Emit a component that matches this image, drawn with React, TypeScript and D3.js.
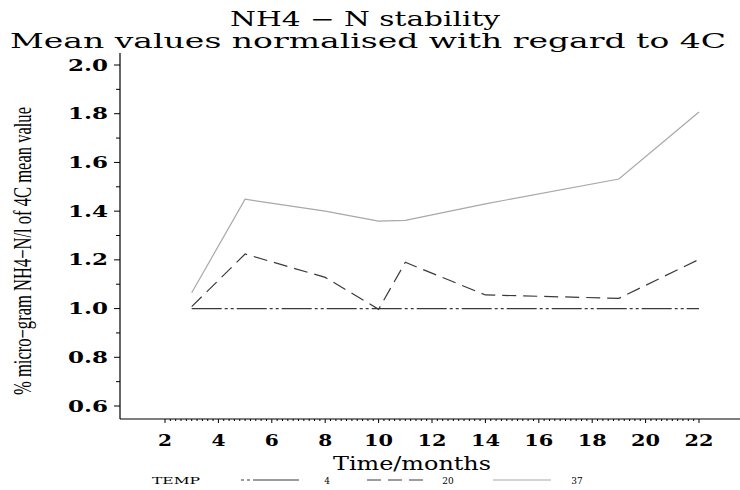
import React from "react";
import * as d3 from "d3";

const months = [3, 5, 8, 10, 11, 14, 19, 22];
const temp4 = [1.0, 1.0, 1.0, 1.0, 1.0, 1.0, 1.0, 1.0];
const temp20 = [1.008, 1.224, 1.128, 0.997, 1.19, 1.056, 1.042, 1.202];
const temp37 = [1.065, 1.449, 1.4, 1.359, 1.362, 1.43, 1.532, 1.807];
const xTicks = [2, 4, 6, 8, 10, 12, 14, 16, 18, 20, 22];
const yTicks = [0.6, 0.8, 1.0, 1.2, 1.4, 1.6, 1.8, 2.0];
const legendLabels = ["4", "20", "37"];

const W = 740;
const H = 490;

export default function App() {
  const x = d3.scaleLinear().domain([2, 22]).range([165, 699]);
  const y = d3.scaleLinear().domain([0.6, 2.0]).range([406, 65]);
  const axisX = 120;
  const axisBottom = 419;
  const axisTop = 53;

  const line = d3
    .line<[number, number]>()
    .x((d) => x(d[0]))
    .y((d) => y(d[1]));

  const pts = (vals: number[]) => months.map((m, i) => [m, vals[i]] as [number, number]);

  const series = [
    { vals: temp4, stroke: "#3a3a3a", dash: "30,3,3,3,3,3", width: 1.2 },
    { vals: temp20, stroke: "#3a3a3a", dash: "14,7", width: 1.2 },
    { vals: temp37, stroke: "#a8a8a8", dash: "none", width: 1.2 },
  ];

  const minorX: number[] = [];
  for (let v = 2; v <= 22.001; v += 0.2) {
    const r = Math.round(v * 10) / 10;
    if (Math.abs(r - Math.round(r / 2) * 2) > 0.01) minorX.push(r);
  }
  const minorY: number[] = [];
  for (let v = 0.7; v <= 1.95; v += 0.2) minorY.push(Math.round(v * 10) / 10);

  const serif = "'DejaVu Serif', serif";

  const legendItems = [
    { x1: 241, x2: 299, lx: 327, ...series[0] },
    { x1: 367, x2: 424, lx: 448, ...series[1] },
    { x1: 493, x2: 551, lx: 577, ...series[2] },
  ];

  return (
    <svg
      width={W}
      height={H}
      style={{ position: "absolute", left: 0, top: 0, background: "#fff" }}
    >
      <rect x={0} y={0} width={W} height={H} fill="#fff" />
      {/* Titles */}
      <text
        x={365}
        y={26}
        textAnchor="middle"
        fontFamily={serif}
        fontSize={20}
        textLength={270}
        lengthAdjust="spacingAndGlyphs"
        fill="#000"
      >
        NH4 − N  stability
      </text>
      <text
        x={368}
        y={48}
        textAnchor="middle"
        fontFamily={serif}
        fontSize={20}
        textLength={716}
        lengthAdjust="spacingAndGlyphs"
        fill="#000"
      >
        Mean values normalised with regard to 4C
      </text>

      {/* Axes */}
      <line x1={axisX} y1={axisTop} x2={axisX} y2={axisBottom} stroke="#000" strokeWidth={1.2} />
      <line x1={axisX} y1={axisBottom} x2={740} y2={axisBottom} stroke="#000" strokeWidth={1.2} />

      {yTicks.map((t) => (
        <g key={"yt" + t}>
          <line x1={axisX - 6} x2={axisX} y1={y(t)} y2={y(t)} stroke="#000" />
          <text
            x={108}
            y={y(t) + 5.5}
            textAnchor="end"
            fontFamily={serif}
            fontWeight="bold"
            fontSize={16}
            textLength={40}
            lengthAdjust="spacingAndGlyphs"
            fill="#000"
          >
            {t.toFixed(1)}
          </text>
        </g>
      ))}
      {minorY.map((t) => (
        <line key={"ym" + t} x1={axisX - 4} x2={axisX} y1={y(t)} y2={y(t)} stroke="#000" />
      ))}

      {xTicks.map((t) => (
        <g key={"xt" + t}>
          <line x1={x(t)} x2={x(t)} y1={axisBottom} y2={axisBottom + 4} stroke="#000" />
          <text
            x={x(t)}
            y={446}
            textAnchor="middle"
            fontFamily={serif}
            fontWeight="bold"
            fontSize={16}
            textLength={String(t).length > 1 ? 29 : 14}
            lengthAdjust="spacingAndGlyphs"
            fill="#000"
          >
            {t}
          </text>
        </g>
      ))}
      {minorX.map((t) => (
        <line key={"xm" + t} x1={x(t)} x2={x(t)} y1={axisBottom} y2={axisBottom + 2} stroke="#000" />
      ))}

      {/* Axis titles */}
      <text
        x={412}
        y={470}
        textAnchor="middle"
        fontFamily={serif}
        fontSize={19}
        textLength={158}
        lengthAdjust="spacingAndGlyphs"
        fill="#000"
      >
        Time/months
      </text>
      <text
        transform="translate(31,251) rotate(-90)"
        textAnchor="middle"
        fontFamily="'Liberation Serif', serif"
        fontSize={25}
        textLength={288}
        lengthAdjust="spacingAndGlyphs"
        fill="#000"
      >
        % micro−gram NH4−N/l of 4C mean value
      </text>

      {/* Series */}
      {series.map((s, i) => (
        <path
          key={"s" + i}
          d={line(pts(s.vals)) || ""}
          fill="none"
          stroke={s.stroke}
          strokeWidth={s.width}
          strokeDasharray={s.dash}
        />
      ))}

      {/* Legend */}
      <text
        x={152}
        y={484}
        fontFamily={serif}
        fontSize={9}
        textLength={48}
        lengthAdjust="spacingAndGlyphs"
        fill="#000"
      >
        TEMP
      </text>
      {legendItems.map((l, i) => (
        <g key={"lg" + i}>
          <line
            x1={l.x1}
            x2={l.x2}
            y1={480}
            y2={480}
            stroke={l.stroke}
            strokeWidth={l.width}
            strokeDasharray={i === 0 ? "3,3,3,3,60" : l.dash}
          />
          <text
            x={l.lx}
            y={484}
            textAnchor="middle"
            fontFamily={serif}
            fontSize={9}
            fill="#000"
          >
            {legendLabels[i]}
          </text>
        </g>
      ))}
    </svg>
  );
}
